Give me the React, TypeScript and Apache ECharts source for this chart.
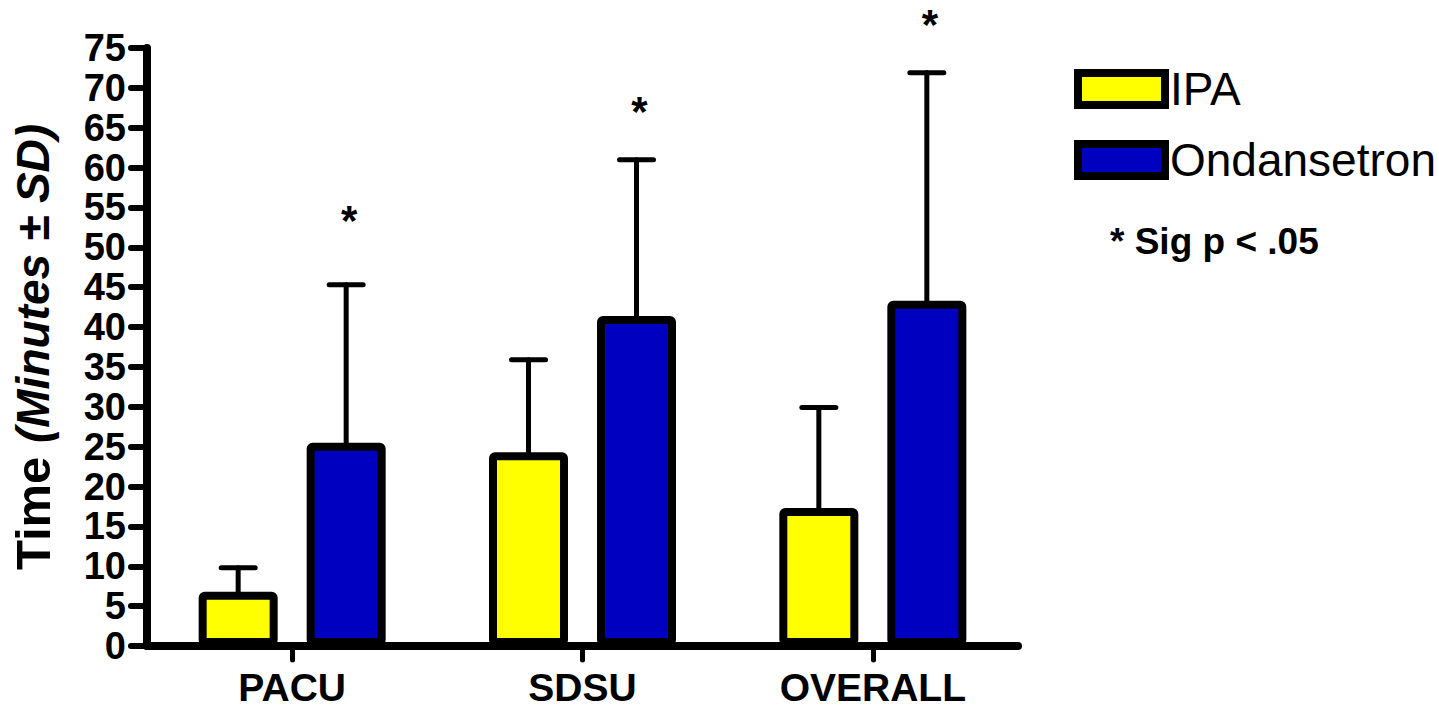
import React, { useEffect, useRef } from "react";
import * as echarts from "echarts";

const categories = ["PACU", "SDSU", "OVERALL"];
const ipaMean = [6.8, 24.3, 17.3];
const ipaUpper = [9.8, 35.9, 29.9];
const ondMean = [25.5, 41.4, 43.3];
const ondUpper = [45.3, 61.0, 71.9];
const sigMarkY = [53.4, 67.0, 77.9];
const yTicks = { min: 0, max: 75, interval: 5 };

const FONT = "Liberation Sans, Arial, sans-serif";
const BAR_W = 79;
const BAR_GAP = 29;
const OFFSET = (BAR_W + BAR_GAP) / 2;

function errorSeries(name: string, means: number[], uppers: number[], dir: number) {
  return {
    type: "custom",
    name: name + "-err",
    z: 1,
    silent: true,
    clip: false,
    data: means.map((m, i) => [i, m, uppers[i]]),
    encode: { x: 0, y: [1, 2] },
    renderItem: (params: any, api: any) => {
      const base = api.coord([api.value(0), api.value(1)]);
      const top = api.coord([api.value(0), api.value(2)]);
      const x = base[0] + dir * OFFSET;
      const style = { stroke: "#000", lineWidth: 5, lineCap: "round" };
      return {
        type: "group",
        children: [
          { type: "line", shape: { x1: x, y1: base[1] + 6, x2: x, y2: top[1] }, style },
          { type: "line", shape: { x1: x - 17, y1: top[1], x2: x + 17, y2: top[1] }, style },
        ],
      };
    },
  };
}

export default function App() {
  const ref = useRef<HTMLDivElement>(null);
  useEffect(() => {
    if (!ref.current) return;
    const chart = echarts.init(ref.current, null, { renderer: "svg" });
    chart.setOption({
      animation: false,
      backgroundColor: "#fff",
      textStyle: { fontFamily: FONT },
      grid: { left: 147, right: 421, top: 48, bottom: 63, containLabel: false },
      legend: {
        left: 1069,
        top: 61,
        orient: "vertical",
        icon: "rect",
        itemWidth: 87,
        itemHeight: 32,
        itemGap: 25,
        selectedMode: false,
        data: ["IPA", "Ondansetron"],
        itemStyle: { borderColor: "#000", borderWidth: 8 },
        textStyle: { fontSize: 46, color: "#000", fontFamily: FONT, lineHeight: 46 },
      },
      xAxis: {
        type: "category",
        data: categories,
        axisLine: { lineStyle: { color: "#000", width: 8, cap: "round" } },
        axisTick: { show: true, alignWithLabel: true, length: 14, lineStyle: { color: "#000", width: 5, cap: "round" } },
        axisLabel: { fontSize: 39, fontWeight: "bold", color: "#000", margin: 22, fontFamily: FONT },
        splitLine: { show: false },
      },
      yAxis: {
        type: "value",
        min: yTicks.min,
        max: yTicks.max,
        interval: yTicks.interval,
        name: "{a|Time }{b|(Minutes ± SD)}",
        nameLocation: "middle",
        nameRotate: 90,
        nameGap: 90,
        nameTextStyle: {
          color: "#000",
          rich: {
            a: { fontSize: 49, fontWeight: "bold", color: "#000", fontFamily: FONT },
            b: { fontSize: 46, fontWeight: "bold", fontStyle: "italic", color: "#000", fontFamily: FONT },
          },
        },
        axisLine: { show: true, lineStyle: { color: "#000", width: 8, cap: "round" } },
        axisTick: { show: true, length: 16, lineStyle: { color: "#000", width: 6, cap: "round" } },
        axisLabel: { fontSize: 38, fontWeight: "bold", color: "#000", margin: 21, fontFamily: FONT },
        splitLine: { show: false },
      },
      series: [
        errorSeries("IPA", ipaMean, ipaUpper, -1),
        errorSeries("Ondansetron", ondMean, ondUpper, 1),
        {
          type: "bar",
          name: "IPA",
          z: 3,
          data: ipaMean,
          barWidth: BAR_W,
          barGap: (BAR_GAP / BAR_W) * 100 + "%",
          itemStyle: { color: "#FFFF00", borderColor: "#000", borderWidth: 8, borderRadius: 2 },
        },
        {
          type: "bar",
          name: "Ondansetron",
          z: 3,
          data: ondMean,
          barWidth: BAR_W,
          barGap: (BAR_GAP / BAR_W) * 100 + "%",
          itemStyle: { color: "#0000C0", borderColor: "#000", borderWidth: 8, borderRadius: 2 },
        },
        {
          type: "custom",
          name: "sig",
          silent: true,
          clip: false,
          z: 4,
          data: sigMarkY.map((v, i) => [i, v]),
          encode: { x: 0, y: 1 },
          renderItem: (params: any, api: any) => {
            const p = api.coord([api.value(0), api.value(1)]);
            return {
              type: "text",
              x: p[0] + OFFSET + 3,
              y: p[1],
              style: {
                text: "*",
                fontSize: 42,
                fontWeight: "bold",
                fontFamily: FONT,
                fill: "#000",
                align: "center",
                verticalAlign: "middle",
              },
            };
          },
        },
      ],
      graphic: [
        {
          type: "text",
          left: 1110,
          top: 223,
          style: { text: "* Sig p < .05", fontSize: 37, fontWeight: "bold", fontFamily: FONT, fill: "#000" },
        },
      ],
    });
    return () => chart.dispose();
  }, []);
  return <div ref={ref} style={{ position: "fixed", left: 0, top: 0, width: 1439, height: 709 }} />;
}
